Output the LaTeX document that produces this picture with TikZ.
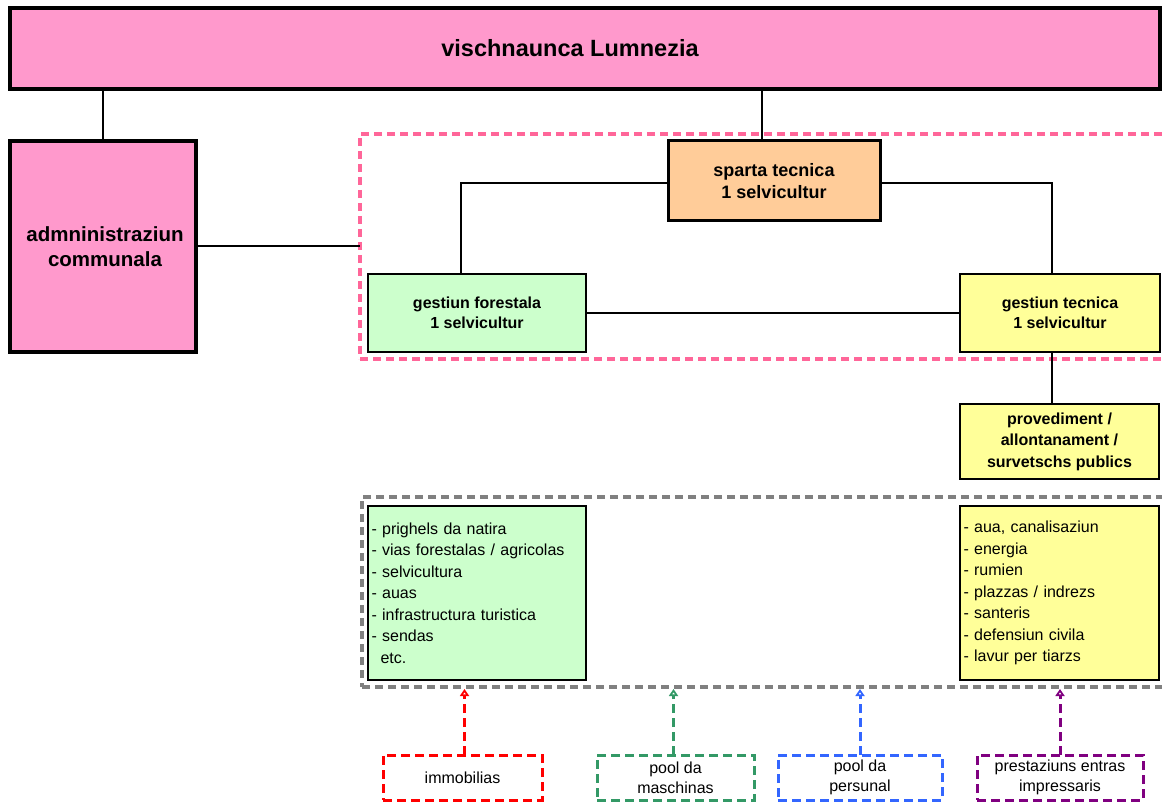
\documentclass[tikz,border=0pt]{standalone}
\usepackage{fontspec}
\setmainfont{Liberation Sans}
\usetikzlibrary{arrows.meta}
\definecolor{pinkfill}{HTML}{FF99CC}
\definecolor{orangefill}{HTML}{FFCC99}
\definecolor{greenfill}{HTML}{CCFFCC}
\definecolor{yellowfill}{HTML}{FFFF99}
\definecolor{pinkdash}{HTML}{FF6699}
\definecolor{graydash}{HTML}{808080}
\definecolor{cred}{HTML}{FF0000}
\definecolor{cgreen}{HTML}{339966}
\definecolor{cblue}{HTML}{3366FF}
\definecolor{cpurple}{HTML}{800080}
\begin{document}
\begin{tikzpicture}[x=1pt,y=-1pt,
  box/.style={draw=black, inner sep=0pt, outer sep=0pt, anchor=north west, align=center},
  heavy/.style={box, line width=3.5pt},
  medium/.style={box, line width=3pt},
  light/.style={box, line width=2.5pt},
  boldA/.style={font=\bfseries\fontsize{16}{20}\selectfont},
  listbox/.style={light, align=left, inner xsep=3.5pt, font=\fontsize{16}{21.5}\selectfont},
  groupbox/.style={inner sep=0pt, outer sep=0pt, anchor=north west, line width=3.5pt, dash pattern=on 8pt off 5pt},
  srcbox/.style={inner sep=0pt, outer sep=0pt, anchor=north west, line width=3pt, dash pattern=on 9pt off 5pt, align=center, font=\fontsize{16}{20}\selectfont, minimum height=45pt},
  conn/.style={draw=black, line width=2pt},
  arr/.style={line width=3pt, dash pattern=on 9pt off 5pt, -{Triangle[open, length=7pt, width=9pt, line width=2pt]}}
]
\useasboundingbox (0,0) rectangle (1162,802);
\clip (0,0) rectangle (1162,802);

% group boxes
\node[groupbox, draw=pinkdash, minimum width=815pt, minimum height=225pt] (pinkgrp) at (360,134) {};
\node[groupbox, draw=graydash, minimum width=813pt, minimum height=190pt] (graygrp) at (362,497) {};

% main boxes
\node[heavy, fill=pinkfill, minimum width=1150pt, minimum height=81pt] (top) at (10,8) {};
\node[font=\bfseries\fontsize{23.5}{28}\selectfont, inner sep=0pt] (toptext) at (570,48) {vischnaunca Lumnezia};
\node[heavy, fill=pinkfill, minimum width=186pt, minimum height=211pt, font=\bfseries\fontsize{20.5}{25}\selectfont] (admin) at (10,141) {\hspace*{4pt}admninistraziun\\\hspace*{4pt}communala};
\node[medium, fill=orangefill, minimum width=212pt, minimum height=80pt, font=\bfseries\fontsize{18}{22}\selectfont] (sparta) at (668,141) {sparta tecnica\\1 selvicultur};
\node[light, boldA, fill=greenfill, minimum width=218pt, minimum height=78pt] (gf) at (368,274) {gestiun forestala\\1 selvicultur};
\node[light, boldA, fill=yellowfill, minimum width=200pt, minimum height=78pt] (gt) at (960,274) {gestiun tecnica\\1 selvicultur};
\node[light, fill=yellowfill, minimum width=199pt, minimum height=75pt, font=\bfseries\fontsize{16}{21.5}\selectfont] (prov) at (960,404) {provediment /\\allontanament /\\survetschs publics};

\node[listbox, fill=greenfill, minimum width=218pt, minimum height=174pt, text width=211pt] (glist) at (368,506)
 {- prighels da natira\\- vias forestalas / agricolas\\- selvicultura\\- auas\\- infrastructura turistica\\- sendas\\\hspace*{9pt}etc.};
\node[listbox, fill=yellowfill, minimum width=199pt, minimum height=174pt, text width=192pt] (ylist) at (960,506)
 {- aua, canalisaziun\\- energia\\- rumien\\- plazzas / indrezs\\- santeris\\- defensiun civila\\- lavur per tiarzs};

% source boxes
\node[srcbox, draw=cred, minimum width=159pt] (imm) at (383,755) {immobilias};
\node[srcbox, draw=cgreen, minimum width=157pt] (pm) at (597,755) {pool da\\maschinas};
\node[srcbox, draw=cblue, minimum width=164pt] (pp) at (778,755) {pool da\\persunal};
\node[srcbox, draw=cpurple, minimum width=166pt] (pr) at (977,755) {prestaziuns entras\\impressaris};

% connectors
\coordinate (c1) at (762,0);
\coordinate (c2) at (461,183);
\coordinate (c3) at (1052,183);
\draw[conn] (admin.north) -- (admin.north |- top.south);
\draw[conn] (c1 |- top.south) -- (c1 |- sparta.north);
\draw[conn] (admin.east) -- (admin.east -| pinkgrp.west);
\draw[conn] (sparta.west |- c2) -| (c2 |- gf.north);
\draw[conn] (sparta.east |- c3) -| (c3 |- gt.north);
\draw[conn] (gf.east) -- (gt.west);
\draw[conn] (c3 |- gt.south) -- (c3 |- prov.north);

% arrows
\draw[arr, draw=cred] ([xshift=2pt]imm.north) -- ([xshift=2pt,yshift=-2pt]imm.north |- graygrp.south);
\draw[arr, draw=cgreen] ([xshift=-2pt]pm.north) -- ([xshift=-2pt,yshift=-2pt]pm.north |- graygrp.south);
\draw[arr, draw=cblue] (pp.north) -- ([yshift=-2pt]pp.north |- graygrp.south);
\draw[arr, draw=cpurple] (pr.north) -- ([yshift=-2pt]pr.north |- graygrp.south);
\end{tikzpicture}
\end{document}
